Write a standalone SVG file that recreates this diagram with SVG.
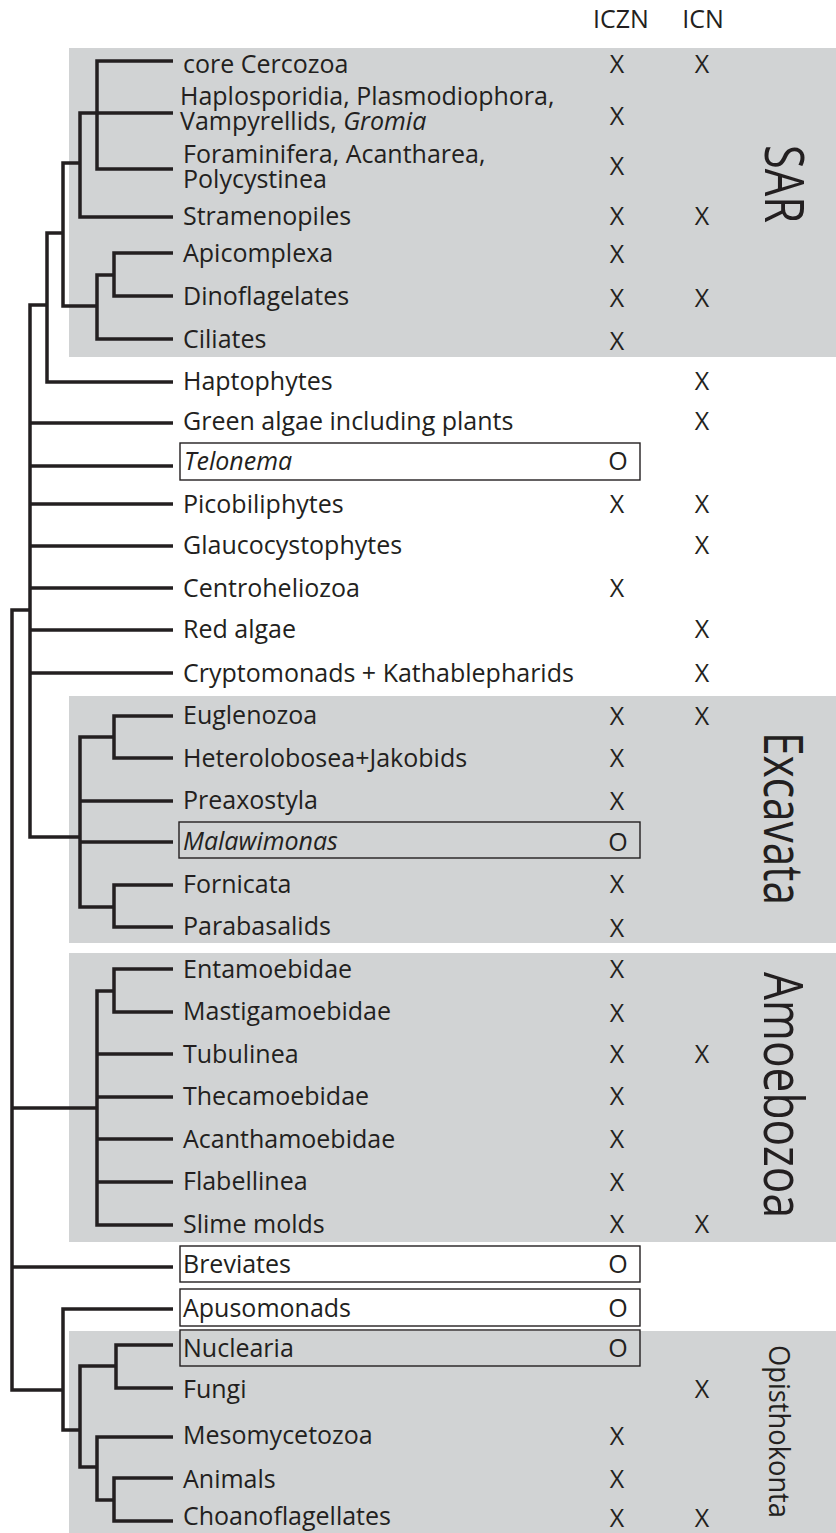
<svg xmlns="http://www.w3.org/2000/svg" width="836" height="1533" viewBox="0 0 836 1533">
<style>
  text { font-family: "Open Sans", "Noto Sans", "Liberation Sans", sans-serif; fill: #231f20; }
  .lb { font-size: 25px; }
  .it { font-style: italic; }
  .mk { font-size: 25px; text-anchor: middle; }
  .hd { font-size: 25px; text-anchor: middle; }
  .grp { fill: #d1d3d4; }
  .box { fill: #ffffff; stroke: #231f20; stroke-width: 1.4; }
  .boxg { fill: none; stroke: #231f20; stroke-width: 1.4; }
  .cl { font-size: 54px; }
  .br { fill: none; stroke: #231f20; stroke-width: 3.5; stroke-linejoin: miter; stroke-linecap: butt; }
</style>

<g id="clades">
  <rect id="clade-sar" class="grp" x="69" y="48" width="767" height="309"/>
  <rect id="clade-excavata" class="grp" x="69" y="696" width="767" height="247"/>
  <rect id="clade-amoebozoa" class="grp" x="69" y="953" width="767" height="289"/>
  <rect id="clade-opisthokonta" class="grp" x="69" y="1331" width="767" height="202"/>
  <text class="cl" transform="translate(765,145) rotate(90)" font-size="52" textLength="78" lengthAdjust="spacingAndGlyphs">SAR</text>
  <text class="cl" transform="translate(764,732) rotate(90)" textLength="173" lengthAdjust="spacingAndGlyphs">Excavata</text>
  <text class="cl" transform="translate(764,972) rotate(90)" textLength="246" lengthAdjust="spacingAndGlyphs">Amoebozoa</text>
  <text transform="translate(769,1345) rotate(90)" font-size="30" textLength="173" lengthAdjust="spacingAndGlyphs">Opisthokonta</text>
</g>

<g id="header">
  <text class="hd" x="621" y="28">ICZN</text>
  <text class="hd" x="703" y="28">ICN</text>
</g>

<g id="connectors">
  <path class="br" d="M173,61 H97 V169 H173"/>
  <path class="br" d="M173,113 H80 V217 H173"/>
  <path class="br" d="M80,163 H63 V306 H97"/>
  <path class="br" d="M114,275 H97 V339 H173"/>
  <path class="br" d="M173,253 H114 V296 H173"/>
  <path class="br" d="M63,233 H47 V382 H173"/>
  <path class="br" d="M47,305 H30 V837 H80"/>
  <path class="br" d="M30,423 H173 M30,466 H173 M30,504 H173 M30,546 H173 M30,588 H173 M30,630 H173 M30,673 H173"/>
  <path class="br" d="M114,737 H80 V907 H114"/>
  <path class="br" d="M80,801 H173 M80,842 H173"/>
  <path class="br" d="M173,716 H114 V758 H173"/>
  <path class="br" d="M173,885 H114 V927 H173"/>
  <path class="br" d="M30,610 H12 V1390 H63"/>
  <path class="br" d="M12,1108 H97"/>
  <path class="br" d="M12,1267 H173"/>
  <path class="br" d="M114,991 H97 V1225 H173"/>
  <path class="br" d="M97,1054 H173 M97,1097 H173 M97,1139 H173 M97,1182 H173"/>
  <path class="br" d="M173,969 H114 V1012 H173"/>
  <path class="br" d="M173,1309 H63 V1430 H80"/>
  <path class="br" d="M116,1366 H80 V1467 H97"/>
  <path class="br" d="M173,1345 H116 V1388 H173"/>
  <path class="br" d="M173,1437 H97 V1500 H114"/>
  <path class="br" d="M173,1478 H114 V1521 H173"/>
</g>

<g id="n-core-cercozoa"><text class="lb" x="183" y="73">core Cercozoa</text><text class="mk" x="617" y="73">X</text><text class="mk" x="702" y="73">X</text></g>
<g id="n-haplosporidia"><text class="lb" x="180" y="105">Haplosporidia, Plasmodiophora,<tspan x="180" dy="25">Vampyrellids, </tspan><tspan class="it">Gromia</tspan></text><text class="mk" x="617" y="125">X</text></g>
<g id="n-foraminifera"><text class="lb" x="183" y="163">Foraminifera, Acantharea,<tspan x="183" dy="25">Polycystinea</tspan></text><text class="mk" x="617" y="175">X</text></g>
<g id="n-stramenopiles"><text class="lb" x="183" y="225">Stramenopiles</text><text class="mk" x="617" y="225">X</text><text class="mk" x="702" y="225">X</text></g>
<g id="n-apicomplexa"><text class="lb" x="183" y="262">Apicomplexa</text><text class="mk" x="617" y="263">X</text></g>
<g id="n-dinoflagelates"><text class="lb" x="183" y="305">Dinoflagelates</text><text class="mk" x="617" y="307">X</text><text class="mk" x="702" y="307">X</text></g>
<g id="n-ciliates"><text class="lb" x="183" y="348">Ciliates</text><text class="mk" x="617" y="350">X</text></g>
<g id="n-haptophytes"><text class="lb" x="183" y="390">Haptophytes</text><text class="mk" x="702" y="390">X</text></g>
<g id="n-green-algae"><text class="lb" x="183" y="430">Green algae including plants</text><text class="mk" x="702" y="430">X</text></g>
<g id="n-telonema"><rect class="box" x="180" y="443" width="460" height="37"/><text class="lb it" x="184" y="470">Telonema</text><text class="mk" x="618" y="470">O</text></g>
<g id="n-picobiliphytes"><text class="lb" x="183" y="513">Picobiliphytes</text><text class="mk" x="617" y="513">X</text><text class="mk" x="702" y="513">X</text></g>
<g id="n-glaucocystophytes"><text class="lb" x="183" y="554">Glaucocystophytes</text><text class="mk" x="702" y="554">X</text></g>
<g id="n-centroheliozoa"><text class="lb" x="183" y="597">Centroheliozoa</text><text class="mk" x="617" y="597">X</text></g>
<g id="n-red-algae"><text class="lb" x="183" y="638">Red algae</text><text class="mk" x="702" y="638">X</text></g>
<g id="n-cryptomonads"><text class="lb" x="183" y="682">Cryptomonads + Kathablepharids</text><text class="mk" x="702" y="682">X</text></g>
<g id="n-euglenozoa"><text class="lb" x="183" y="724">Euglenozoa</text><text class="mk" x="617" y="725">X</text><text class="mk" x="702" y="725">X</text></g>
<g id="n-heterolobosea"><text class="lb" x="183" y="767">Heterolobosea+Jakobids</text><text class="mk" x="617" y="767">X</text></g>
<g id="n-preaxostyla"><text class="lb" x="183" y="809">Preaxostyla</text><text class="mk" x="617" y="810">X</text></g>
<g id="n-malawimonas"><rect class="boxg" x="179" y="822" width="461" height="36"/><text class="lb it" x="183" y="850">Malawimonas</text><text class="mk" x="618" y="851">O</text></g>
<g id="n-fornicata"><text class="lb" x="183" y="893">Fornicata</text><text class="mk" x="617" y="893">X</text></g>
<g id="n-parabasalids"><text class="lb" x="183" y="935">Parabasalids</text><text class="mk" x="617" y="937">X</text></g>
<g id="n-entamoebidae"><text class="lb" x="183" y="978">Entamoebidae</text><text class="mk" x="617" y="978">X</text></g>
<g id="n-mastigamoebidae"><text class="lb" x="183" y="1020">Mastigamoebidae</text><text class="mk" x="617" y="1022">X</text></g>
<g id="n-tubulinea"><text class="lb" x="183" y="1063">Tubulinea</text><text class="mk" x="617" y="1063">X</text><text class="mk" x="702" y="1063">X</text></g>
<g id="n-thecamoebidae"><text class="lb" x="183" y="1105">Thecamoebidae</text><text class="mk" x="617" y="1105">X</text></g>
<g id="n-acanthamoebidae"><text class="lb" x="183" y="1148">Acanthamoebidae</text><text class="mk" x="617" y="1148">X</text></g>
<g id="n-flabellinea"><text class="lb" x="183" y="1190">Flabellinea</text><text class="mk" x="617" y="1191">X</text></g>
<g id="n-slime-molds"><text class="lb" x="183" y="1233">Slime molds</text><text class="mk" x="617" y="1233">X</text><text class="mk" x="702" y="1233">X</text></g>
<g id="n-breviates"><rect class="box" x="180" y="1246" width="460" height="36"/><text class="lb" x="183" y="1273">Breviates</text><text class="mk" x="618" y="1273">O</text></g>
<g id="n-apusomonads"><rect class="box" x="180" y="1289" width="460" height="37"/><text class="lb" x="183" y="1317">Apusomonads</text><text class="mk" x="618" y="1317">O</text></g>
<g id="n-nuclearia"><rect class="boxg" x="180" y="1330" width="460" height="36"/><text class="lb" x="183" y="1357">Nuclearia</text><text class="mk" x="618" y="1357">O</text></g>
<g id="n-fungi"><text class="lb" x="183" y="1398">Fungi</text><text class="mk" x="702" y="1398">X</text></g>
<g id="n-mesomycetozoa"><text class="lb" x="183" y="1444">Mesomycetozoa</text><text class="mk" x="617" y="1445">X</text></g>
<g id="n-animals"><text class="lb" x="183" y="1488">Animals</text><text class="mk" x="617" y="1488">X</text></g>
<g id="n-choanoflagellates"><text class="lb" x="183" y="1525">Choanoflagellates</text><text class="mk" x="617" y="1527">X</text><text class="mk" x="702" y="1527">X</text></g>
</svg>
